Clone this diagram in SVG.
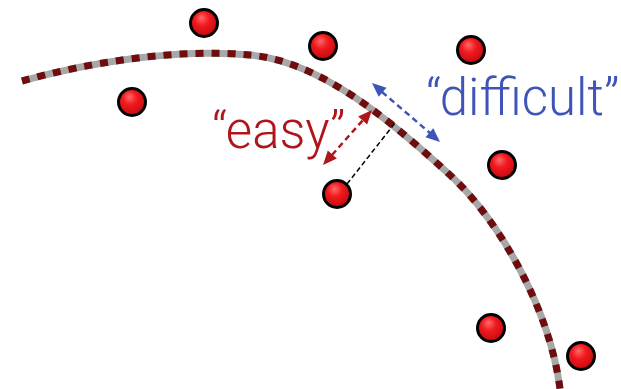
<svg xmlns="http://www.w3.org/2000/svg" width="621" height="389" viewBox="0 0 621 389">
<defs>
<radialGradient id="ball" cx="0.45" cy="0.4" r="0.6" fx="0.4" fy="0.3">
<stop offset="0" stop-color="#ff6a6a"/>
<stop offset="0.45" stop-color="#f0191e"/>
<stop offset="1" stop-color="#c40a10"/>
</radialGradient>
</defs>
<style>
.pt{fill:url(#ball);stroke:#000;stroke-width:3}
.lbl{font-family:Roboto,"Liberation Sans",sans-serif;font-weight:300;font-size:51px}
.dr{stroke:#b0151c;stroke-width:2.5;stroke-dasharray:6 4;fill:none}
.db{stroke:#3f54b8;stroke-width:2.5;stroke-dasharray:6 4;fill:none}
</style>
<g id="curve">
<path d="M22,81 C90,62 180,48 250,55 C320,61 390,120 450,175 C500,221 550,310 560,389" fill="none" stroke="#a8a8a8" stroke-width="7"/>
<path d="M22,81 C90,62 180,48 250,55 C320,61 390,120 450,175 C500,221 550,310 560,389" fill="none" stroke="#6e0c0e" stroke-width="7" stroke-dasharray="8 8"/>
</g>
<g id="connectors">
<line x1="347" y1="184" x2="395" y2="123" stroke="#000" stroke-width="1.5" stroke-dasharray="5 3"/>
<line class="dr" x1="332" y1="155" x2="363" y2="120"/>
<polygon points="372,110 367.2,124.4 358.2,116.4" fill="#b0151c"/>
<polygon points="323,165 336.8,158.6 327.8,150.6" fill="#b0151c"/>
<line class="db" x1="382" y1="92" x2="430" y2="133"/>
<polygon points="440,142 425.5,137.3 433.3,128.3" fill="#3f54b8"/>
<polygon points="372,83 378.7,96.7 386.5,87.7" fill="#3f54b8"/>
</g>
<g id="points">
<circle class="pt" cx="204" cy="23" r="13.5"/>
<circle class="pt" cx="323" cy="46" r="13.5"/>
<circle class="pt" cx="471" cy="50" r="13.5"/>
<circle class="pt" cx="132" cy="102" r="13.5"/>
<circle class="pt" cx="502" cy="165" r="13.5"/>
<circle class="pt" cx="337" cy="194" r="13.5"/>
<circle class="pt" cx="491" cy="328" r="13.5"/>
<circle class="pt" cx="581" cy="356" r="13.5"/>
</g>
<g id="label-easy"><text class="lbl" x="212" y="148" fill="#b0151c">“easy”</text></g>
<g id="label-difficult"><text class="lbl" x="426" y="115" fill="#3f54b8">“difficult”</text></g>
</svg>
